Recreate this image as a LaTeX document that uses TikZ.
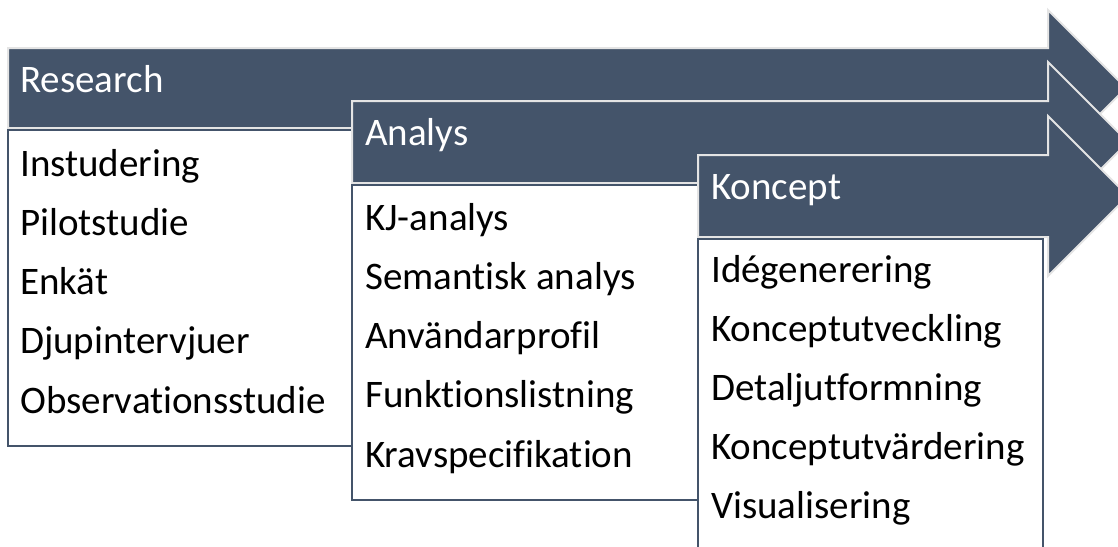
\documentclass[tikz,border=0pt]{standalone}
\usepackage{fontspec}
\setmainfont[Ligatures={NoCommon}]{Carlito}
\definecolor{slate}{HTML}{44546A}
\definecolor{rim}{RGB}{228,228,228}
\begin{document}
\begin{tikzpicture}[x=1pt,y=-1pt,
  arrowband/.style={fill=slate,draw=rim,line width=2pt,line join=miter},
  listbox/.style={fill=white,draw=slate,line width=2pt},
  headtext/.style={anchor=base west,inner sep=0pt,text=white,font=\fontsize{39}{44}\selectfont},
  itemtext/.style={anchor=base west,inner sep=0pt,text=black,font=\fontsize{39}{44}\selectfont}]
\useasboundingbox (0,0) rectangle (1118,546);
\clip (0,0) rectangle (1118,546);
% Research
\draw[arrowband] (8,48) -- (1048,48) -- (1048,10) -- (1126,88) -- (1048,166) -- (1048,128) -- (8,128) -- cycle;
\node[headtext] (research) at (20,92) {Research};
\draw[listbox] (8,130) rectangle (352,446);
\node[itemtext] (r1) at (20,176) {Instudering};
\node[itemtext] (r2) at (20,235.25) {Pilotstudie};
\node[itemtext] (r3) at (20,294.5) {Enkät};
\node[itemtext] (r4) at (20,353.75) {Djupintervjuer};
\node[itemtext] (r5) at (20,413) {Observationsstudie};
% Analys
\draw[arrowband] (352,101) -- (1048,101) -- (1048,62) -- (1128,142) -- (1048,222) -- (1048,183) -- (352,183) -- cycle;
\node[headtext] (analys) at (365,145) {Analys};
\draw[listbox] (352,185) rectangle (698,500);
\node[itemtext] (a1) at (365,230) {KJ-analys};
\node[itemtext] (a2) at (365,289.25) {Semantisk analys};
\node[itemtext] (a3) at (365,348.5) {Användarprofil};
\node[itemtext] (a4) at (365,407.75) {Funktionslistning};
\node[itemtext] (a5) at (365,467) {Kravspecifikation};
% Koncept
\draw[arrowband] (698,155) -- (1048,155) -- (1048,116) -- (1128,196) -- (1048,276) -- (1048,237) -- (698,237) -- cycle;
\node[headtext] (koncept) at (711,199) {Koncept};
\draw[listbox] (698,239) rectangle (1043,570);
\node[itemtext] (k1) at (711,282) {Idégenerering};
\node[itemtext] (k2) at (711,341) {Konceptutveckling};
\node[itemtext] (k3) at (711,400) {Detaljutformning};
\node[itemtext] (k4) at (711,459) {Konceptutvärdering};
\node[itemtext] (k5) at (711,518) {Visualisering};
\end{tikzpicture}
\end{document}
